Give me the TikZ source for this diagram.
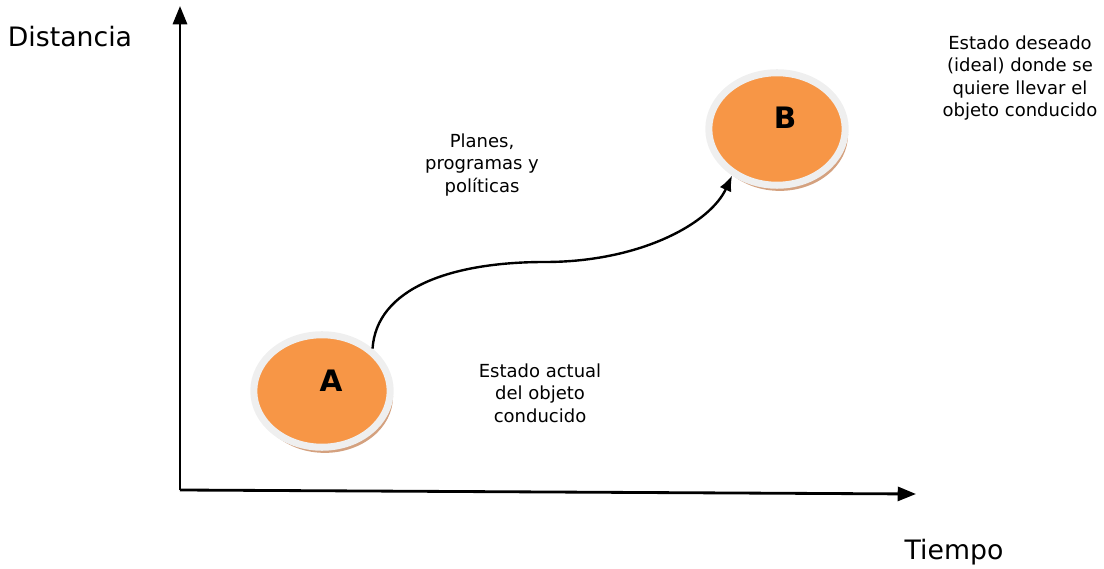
\documentclass[tikz,border=0pt]{standalone}
\usepackage{fontspec}
\setmainfont{DejaVu Sans}
\usetikzlibrary{arrows.meta,shapes.geometric,shadows}
\definecolor{stateorange}{HTML}{F79646}
\definecolor{ringgray}{HTML}{EFEFEF}
\definecolor{shadowbrown}{HTML}{D4A17F}
\tikzset{
  state/.style={ellipse,fill=stateorange,draw=ringgray,line width=5pt,
    minimum width=97pt,minimum height=80pt,
    drop shadow={fill=shadowbrown,opacity=1,shadow xshift=2pt,shadow yshift=-4pt}},
  statelabel/.style={font=\bfseries\fontsize{21}{22}\selectfont},
  note/.style={align=center,font=\fontsize{12.8}{16}\selectfont},
  axislabel/.style={font=\fontsize{19}{22}\selectfont},
  axis/.style={line width=2pt,-{Triangle[length=13pt,width=10pt]}},
  flow/.style={line width=1.7pt,-{Latex[length=11pt,width=9pt]}}
}
\begin{document}
\begin{tikzpicture}[x=0.025cm,y=-0.025cm]
	\useasboundingbox (0,0) rectangle (1104,569);
	% axes
	\coordinate (O) at (180,490);
	\coordinate (ytop) at (180,6);
	\coordinate (xend) at (916,494);
	\draw[axis] (O) -- (ytop);
	\draw[axis] (O) -- (xend);
	\node (dist) [axislabel] at (70,37) {Distancia};
	\node (time) [axislabel] at (954,552) {Tiempo};
	% states
	\node (A) [state] at (322,391) {};
	\node (B) [state] at (777,129) {};
	\node (Alab) [statelabel] at (331,381) {A};
	\node (Blab) [statelabel] at (785,118) {B};
	% path from A to B
	\coordinate (mid) at (545,262);
	\draw[flow] (A.40) .. controls +(4,-60) and +(-95,0) .. (mid) .. controls +(95,0) and +(-22,48) .. (B.-134);
	% notes
	\node (plans) [note] at (482,165) {Planes,\\programas y\\políticas};
	\node (now) [note] at (540,393) {Estado actual\\del objeto\\conducido};
	\node (goal) [note] at (1020,78) {Estado deseado\\(ideal) donde se\\quiere llevar el\\objeto conducido};
\end{tikzpicture}
\end{document}
